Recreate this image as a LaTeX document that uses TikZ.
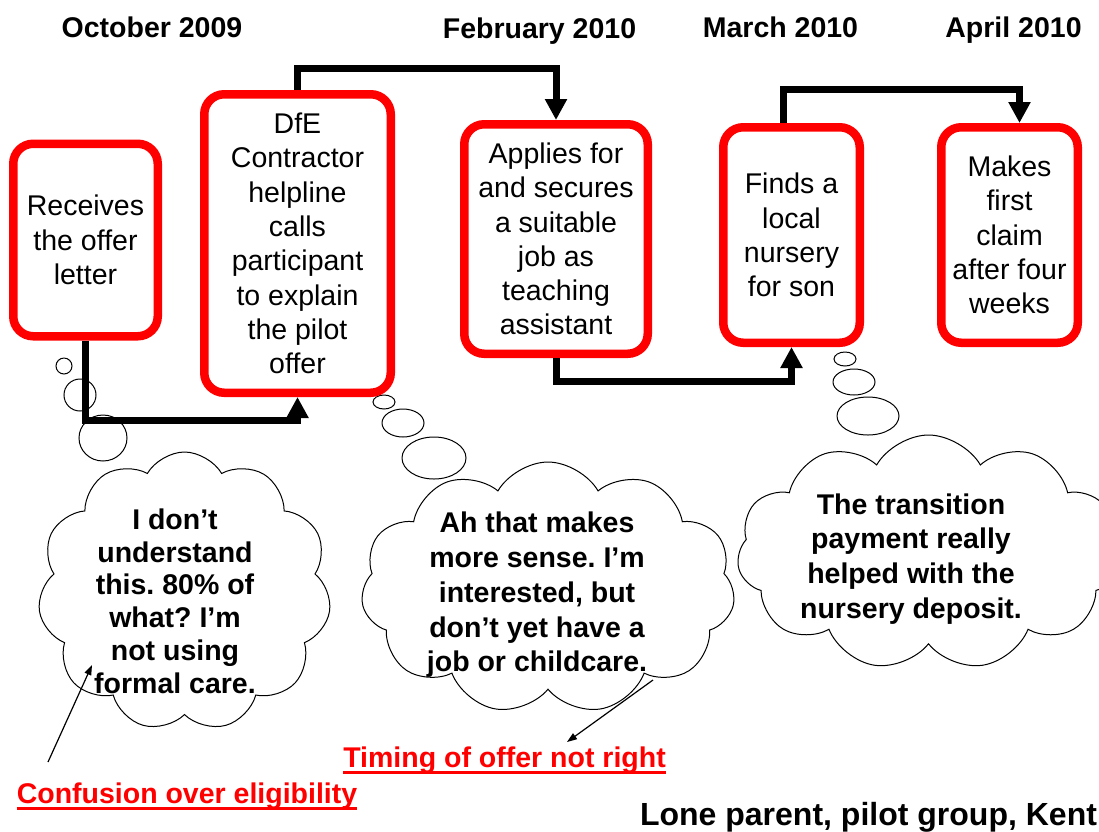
\documentclass[tikz,border=0pt]{standalone}
\usepackage{fontspec}
\setmainfont{Liberation Sans}
\frenchspacing
\usetikzlibrary{positioning, arrows.meta, shapes.symbols}

\begin{document}
\begin{tikzpicture}[x=1pt, y=-1pt,
    eventbox/.style={rectangle, draw=red, line width=8.5pt, rounded corners=20pt, fill=white, align=center, inner sep=0pt, font=\fontsize{28.5}{34.3}\selectfont},
    datelabel/.style={anchor=base, inner sep=0pt, font=\bfseries\fontsize{28.5}{34}\selectfont},
    thought/.style={cloud, cloud puffs=11, cloud puff arc=120, cloud ignores aspect, draw=black, line width=1pt, fill=white},
    thoughttext/.style={align=center, inner sep=0pt, font=\bfseries\fontsize{28.5}{34.8}\selectfont},
    bubble/.style={draw=black, line width=1pt},
    flowarrow/.style={line width=7pt, -{Triangle[width=21pt, length=21pt]}},
    pointer/.style={line width=1.2pt, -{Triangle[width=7pt, length=10pt]}},
    remark/.style={anchor=base, inner sep=0pt, text=red, font=\bfseries\fontsize{28.5}{34}\selectfont}
]
\clip (0,0) rectangle (1099,831);

% thought bubbles
\draw[bubble] (64,366) ellipse [x radius=8, y radius=8];
\draw[bubble] (80,395) ellipse [x radius=16, y radius=16];
\draw[bubble] (103,438) ellipse [x radius=24, y radius=23];
\draw[bubble] (384,402) ellipse [x radius=11, y radius=7];
\draw[bubble] (403,423) ellipse [x radius=21, y radius=14];
\draw[bubble] (434,458) ellipse [x radius=32, y radius=21];
\draw[bubble] (845,359) ellipse [x radius=11, y radius=7];
\draw[bubble] (854,382) ellipse [x radius=21, y radius=13];
\draw[bubble] (868,416) ellipse [x radius=31, y radius=19];

% clouds
\node[thought, minimum width=293pt, minimum height=279pt](cloud_1) at (184.5,591.5){};
\node[thought, minimum width=374pt, minimum height=252pt](cloud_2) at (548,588){};
\node[thought, minimum width=383pt, minimum height=235pt](cloud_3) at (928.5,552.5){};

\node[thoughttext, font=\bfseries\fontsize{28.5}{32.8}\selectfont](text_1) at (175,601){I don’t\\understand\\this. 80\% of\\what? I’m\\not using\\formal care.};
\node[thoughttext](text_2) at (537,595){Ah that makes\\more sense. I’m\\interested, but\\don’t yet have a\\job or childcare.};
\node[thoughttext](text_3) at (911,559){The transition\\payment really\\helped with the\\nursery deposit.};

% dates
\node[datelabel](date_1) at (152,37){October 2009};
\node[datelabel](date_2) at (539.5,38){February 2010};
\node[datelabel](date_3) at (780.5,37){March 2010};
\node[datelabel](date_4) at (1013.5,37){April 2010};

% events
\node[eventbox, minimum width=144.5pt, minimum height=192.5pt](box_1) at (85.5,240){Receives\\the offer\\letter};
\node[eventbox, minimum width=186.5pt, minimum height=298.5pt](box_2) at (297.5,243.5){DfE\\Contractor\\helpline\\calls\\participant\\to explain\\the pilot\\offer};
\node[eventbox, minimum width=183.5pt, minimum height=229.5pt](box_3) at (556,239){Applies for\\and secures\\a suitable\\job as\\teaching\\assistant};
\node[eventbox, minimum width=136.5pt, minimum height=215.5pt](box_4) at (791.5,235){Finds a\\local\\nursery\\for son};
\node[eventbox, minimum width=136.5pt, minimum height=215.5pt](box_5)[right = 73pt of box_4]{Makes\\first\\claim\\after four\\weeks};

\draw[flowarrow] (box_1.south) -- ++(0,80) -| (box_2.south);
\draw[flowarrow] (box_2.north) -- ++(0,-22) -| (box_3.north);
\draw[flowarrow] (box_3.south) -- ++(0,23) -| (box_4.south);
\draw[flowarrow] ([xshift=-8pt]box_4.north) -- ++(0,-34) -| ([xshift=10pt]box_5.north);

% remarks
\node[remark](remark_1) at (187,803){Confusion over eligibility};
\node[remark](remark_2) at (504.5,767){Timing of offer not right};
\draw[red, line width=3pt] ([yshift=-5pt]remark_1.base west) -- ([yshift=-5pt]remark_1.base east);
\draw[red, line width=3pt] ([yshift=-5pt]remark_2.base west) -- ([yshift=-5pt]remark_2.base east);

\coordinate (conf_tail) at (48,762);
\coordinate (conf_tip) at (92,665);
\coordinate (timing_tail) at (653,680);
\coordinate (timing_tip) at (567,742);
\draw[pointer] (conf_tail) -- (conf_tip);
\draw[pointer] (timing_tail) -- (timing_tip);

\node[datelabel, font=\bfseries\fontsize{32}{38}\selectfont](group) at (868.5,825){Lone parent, pilot group, Kent};
\end{tikzpicture}
\end{document}
